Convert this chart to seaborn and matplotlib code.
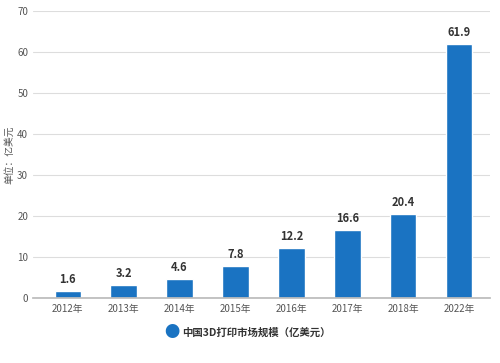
import matplotlib
matplotlib.use('Agg')
import matplotlib.pyplot as plt
import seaborn as sns
import pandas as pd

years = ['2012年', '2013年', '2014年', '2015年', '2016年', '2017年', '2018年', '2022年']
values = [1.6, 3.2, 4.6, 7.8, 12.2, 16.6, 20.4, 61.9]
series_name = '中国3D打印市场规模（亿美元）'
y_label = '单位：亿美元'

sns.set_theme(style='white')
plt.rcParams['font.family'] = ['Noto Sans CJK SC', 'DejaVu Sans']

df = pd.DataFrame({'year': years, 'value': values})
bar_color = '#1a73c2'

fig = plt.figure(figsize=(5, 3.63), dpi=100)
ax = fig.add_axes([0.066, 0.179, 0.914, 0.791])

sns.barplot(data=df, x='year', y='value', color=bar_color, width=0.47,
            saturation=1, ax=ax)

for i, v in enumerate(values):
    ax.text(i, v + 1.3, f'{v}', ha='center', va='bottom', fontsize=8,
            fontweight='bold', color='#333333')

ax.set_ylim(0, 70)
ax.set_yticks(range(0, 71, 10))
ax.yaxis.grid(True, color='#dddddd', linewidth=0.8)
ax.set_axisbelow(True)
for s in ['top', 'right', 'left']:
    ax.spines[s].set_visible(False)
ax.spines['bottom'].set_color('#bbbbbb')
ax.tick_params(axis='both', labelsize=7, colors='#555555', length=0)
ax.tick_params(axis='x', pad=4)
ax.set_xlabel('')
ax.set_ylabel(y_label, fontsize=7, color='#555555', labelpad=2)
ax.set_xlim(-0.62, 7.55)

# legend
fig.text(0.344, 0.083, '●', fontsize=11, color=bar_color, ha='center', va='center')
fig.text(0.365, 0.083, series_name, fontsize=7.5, fontweight='bold',
         color='#333333', ha='left', va='center')

fig.savefig('out.png', dpi=100)
